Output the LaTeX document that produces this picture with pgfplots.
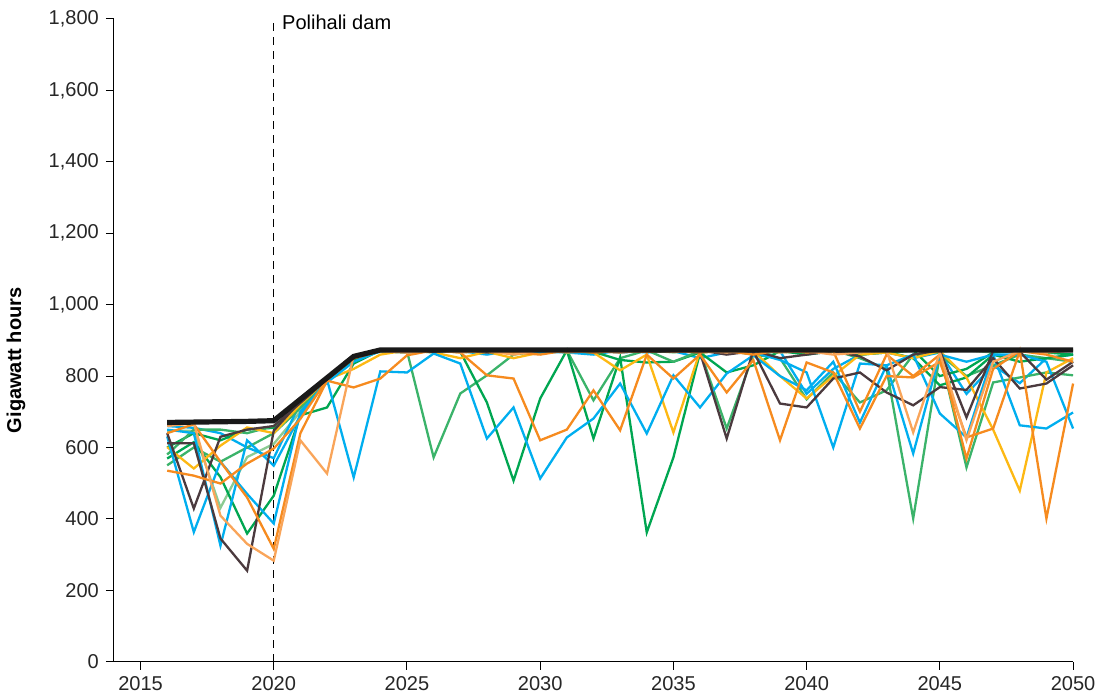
\documentclass[border=0pt]{standalone}
\usepackage{pgfplots}
\pgfplotsset{compat=1.18}
\usepackage{fontspec}
\setmainfont{Liberation Sans}

\definecolor{cbrown}{HTML}{4B3A3E}
\definecolor{ccyan}{HTML}{00AEEF}
\definecolor{cdgreen}{HTML}{00A651}
\definecolor{cmgreen}{HTML}{3BB36A}
\definecolor{clgreen}{HTML}{8CCB93}
\definecolor{corange}{HTML}{F68B1F}
\definecolor{clorange}{HTML}{F9A55A}
\definecolor{cyellow}{HTML}{FDB813}

\begin{document}
\fontsize{10pt}{12pt}\selectfont
\begin{tikzpicture}
\begin{axis}[
    scale only axis,
    width=479pt, height=321pt,
    xmin=2014, xmax=2050,
    ymin=0, ymax=1800,
    axis x line*=bottom,
    axis y line*=left,
    axis line style={line width=0.5pt},
    tick align=outside,
    major tick length=4pt,
    tick style={line width=0.5pt, black},
    xtick={2015,2020,...,2050},
    ytick={0,200,...,1800},
    xticklabel style={/pgf/number format/1000 sep=},
    yticklabel style={/pgf/number format/1000 sep={,}},
    /pgf/number format/assume math mode=true,
    ticklabel style={font=\fontsize{10pt}{12pt}\selectfont, text=black!85},
    ylabel={\bfseries Gigawatt hours},
    every axis y label/.style={at={(axis description cs:-0.102,0.469)}, rotate=90, anchor=center},
    every axis plot/.append style={line width=1.15pt, line join=miter, mark=none},
    clip=false,
]
\path (axis cs:2014,1853) -- (axis cs:2015,1853);
\draw[dashed, dash pattern=on 4pt off 3pt, line width=0.5pt] (axis cs:2020,0) -- (axis cs:2020,1800);
\node[anchor=west, inner sep=2pt] at (axis cs:2020.15,1790) {Polihali dam};

% light green
\addplot[clgreen] coordinates {(2016,647) (2017,647) (2018,431) (2019,573) (2020,610) (2021,700) (2022,790) (2023,850) (2024,870) (2025,868) (2026,872) (2027,866) (2028,870) (2029,868) (2030,872) (2031,866) (2032,870) (2033,868) (2034,872) (2035,866) (2036,870) (2037,868) (2038,872) (2039,866) (2040,870) (2041,868) (2042,872) (2043,866) (2044,870) (2045,868) (2046,872) (2047,866) (2048,870) (2049,868) (2050,872)};
% cyan C
\addplot[ccyan] coordinates {(2016,660) (2017,655) (2018,640) (2019,600) (2020,570) (2021,725) (2022,790) (2023,850) (2024,868) (2025,872) (2026,866) (2027,870) (2028,860) (2029,872) (2030,868) (2031,866) (2032,860) (2033,872) (2034,866) (2035,870) (2036,850) (2037,866) (2038,872) (2039,870) (2040,750) (2041,820) (2042,860) (2043,866) (2044,850) (2045,866) (2046,750) (2047,830) (2048,780) (2049,850) (2050,860)};
% dark green 2
\addplot[cdgreen] coordinates {(2016,600) (2017,640) (2018,620) (2019,650) (2020,655) (2021,715) (2022,785) (2023,845) (2024,870) (2025,866) (2026,872) (2027,868) (2028,870) (2029,872) (2030,866) (2031,872) (2032,868) (2033,845) (2034,838) (2035,840) (2036,866) (2037,872) (2038,860) (2039,870) (2040,866) (2041,872) (2042,860) (2043,866) (2044,872) (2045,800) (2046,820) (2047,866) (2048,872) (2049,866) (2050,860)};
% medium green 2
\addplot[cmgreen] coordinates {(2016,580) (2017,650) (2018,650) (2019,640) (2020,660) (2021,720) (2022,790) (2023,852) (2024,870) (2025,866) (2026,872) (2027,868) (2028,870) (2029,866) (2030,872) (2031,870) (2032,866) (2033,872) (2034,868) (2035,870) (2036,866) (2037,872) (2038,868) (2039,870) (2040,866) (2041,872) (2042,850) (2043,820) (2044,401) (2045,860) (2046,800) (2047,830) (2048,860) (2049,850) (2050,840)};
% medium green
\addplot[cmgreen] coordinates {(2016,550) (2017,600) (2018,560) (2019,600) (2020,640) (2021,710) (2022,785) (2023,850) (2024,872) (2025,870) (2026,572) (2027,751) (2028,802) (2029,860) (2030,870) (2031,872) (2032,732) (2033,850) (2034,872) (2035,840) (2036,870) (2037,653) (2038,860) (2039,850) (2040,735) (2041,810) (2042,726) (2043,760) (2044,860) (2045,866) (2046,544) (2047,782) (2048,796) (2049,810) (2050,802)};
% dark green
\addplot[cdgreen] coordinates {(2016,569) (2017,615) (2018,517) (2019,359) (2020,465) (2021,690) (2022,712) (2023,835) (2024,872) (2025,870) (2026,872) (2027,868) (2028,726) (2029,507) (2030,737) (2031,872) (2032,625) (2033,852) (2034,362) (2035,572) (2036,866) (2037,810) (2038,830) (2039,870) (2040,860) (2041,870) (2042,860) (2043,868) (2044,850) (2045,774) (2046,796) (2047,860) (2048,840) (2049,850) (2050,860)};
% yellow
\addplot[cyellow] coordinates {(2016,601) (2017,541) (2018,605) (2019,656) (2020,640) (2021,720) (2022,790) (2023,820) (2024,860) (2025,872) (2026,866) (2027,850) (2028,868) (2029,850) (2030,866) (2031,872) (2032,866) (2033,816) (2034,860) (2035,642) (2036,870) (2037,866) (2038,870) (2039,800) (2040,737) (2041,800) (2042,860) (2043,866) (2044,850) (2045,870) (2046,796) (2047,650) (2048,479) (2049,810) (2050,850)};
% cyan B
\addplot[ccyan] coordinates {(2016,650) (2017,640) (2018,325) (2019,620) (2020,549) (2021,690) (2022,790) (2023,516) (2024,813) (2025,810) (2026,863) (2027,835) (2028,625) (2029,712) (2030,513) (2031,628) (2032,681) (2033,779) (2034,639) (2035,802) (2036,712) (2037,807) (2038,858) (2039,800) (2040,760) (2041,840) (2042,670) (2043,830) (2044,860) (2045,695) (2046,628) (2047,860) (2048,860) (2049,840) (2050,653)};
% cyan A
\addplot[ccyan] coordinates {(2016,631) (2017,363) (2018,560) (2019,470) (2020,387) (2021,700) (2022,782) (2023,840) (2024,870) (2025,866) (2026,870) (2027,872) (2028,868) (2029,872) (2030,866) (2031,870) (2032,872) (2033,866) (2034,870) (2035,872) (2036,868) (2037,870) (2038,866) (2039,845) (2040,810) (2041,600) (2042,835) (2043,830) (2044,583) (2045,860) (2046,840) (2047,860) (2048,662) (2049,653) (2050,698)};
% brown 2
\addplot[cbrown] coordinates {(2016,612) (2017,612) (2018,345) (2019,255) (2020,647) (2021,730) (2022,792) (2023,852) (2024,872) (2025,870) (2026,868) (2027,872) (2028,866) (2029,870) (2030,872) (2031,868) (2032,870) (2033,866) (2034,872) (2035,868) (2036,872) (2037,860) (2038,870) (2039,723) (2040,712) (2041,793) (2042,810) (2043,754) (2044,718) (2045,769) (2046,761) (2047,850) (2048,765) (2049,779) (2050,830)};
% brown 1
\addplot[cbrown] coordinates {(2016,640) (2017,429) (2018,630) (2019,650) (2020,660) (2021,725) (2022,790) (2023,850) (2024,870) (2025,872) (2026,870) (2027,872) (2028,868) (2029,872) (2030,870) (2031,872) (2032,866) (2033,870) (2034,868) (2035,870) (2036,866) (2037,625) (2038,872) (2039,850) (2040,860) (2041,870) (2042,855) (2043,816) (2044,860) (2045,872) (2046,684) (2047,870) (2048,868) (2049,790) (2050,840)};
% orange B
\addplot[corange] coordinates {(2016,535) (2017,521) (2018,499) (2019,555) (2020,597) (2021,680) (2022,790) (2023,850) (2024,870) (2025,866) (2026,872) (2027,868) (2028,870) (2029,866) (2030,860) (2031,872) (2032,866) (2033,870) (2034,868) (2035,872) (2036,866) (2037,870) (2038,860) (2039,872) (2040,866) (2041,870) (2042,700) (2043,860) (2044,800) (2045,860) (2046,569) (2047,820) (2048,870) (2049,860) (2050,840)};
% orange A
\addplot[corange] coordinates {(2016,640) (2017,665) (2018,560) (2019,460) (2020,316) (2021,640) (2022,787) (2023,768) (2024,793) (2025,858) (2026,872) (2027,866) (2028,802) (2029,793) (2030,620) (2031,650) (2032,760) (2033,648) (2034,860) (2035,793) (2036,860) (2037,754) (2038,845) (2039,620) (2040,838) (2041,810) (2042,653) (2043,800) (2044,796) (2045,840) (2046,628) (2047,653) (2048,870) (2049,401) (2050,779)};
% light orange
\addplot[clorange] coordinates {(2016,660) (2017,668) (2018,409) (2019,330) (2020,283) (2021,620) (2022,527) (2023,858) (2024,870) (2025,866) (2026,872) (2027,866) (2028,870) (2029,860) (2030,872) (2031,866) (2032,870) (2033,866) (2034,872) (2035,868) (2036,870) (2037,866) (2038,872) (2039,866) (2040,870) (2041,860) (2042,866) (2043,872) (2044,642) (2045,866) (2046,620) (2047,840) (2048,870) (2049,866) (2050,872)};
% maximum
\addplot[black!90, line width=2.6pt] coordinates {(2016,670) (2017,671) (2018,672) (2019,673) (2020,675) (2021,735) (2022,795) (2023,855) (2024,873) (2030,873) (2040,873) (2050,873)};
\end{axis}
\end{tikzpicture}
\end{document}
